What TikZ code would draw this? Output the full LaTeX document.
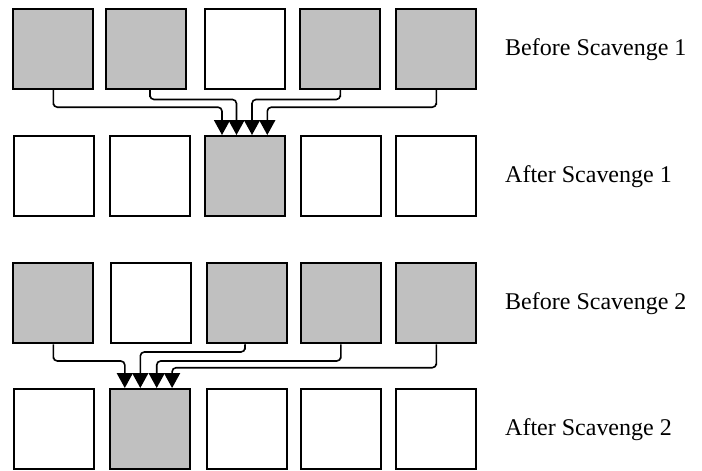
\documentclass[tikz,border=0pt]{standalone}
\usepackage{fontspec}
\setmainfont{Liberation Serif}
\usetikzlibrary{arrows.meta}
\definecolor{boxgray}{HTML}{C0C0C0}
\begin{document}
\begin{tikzpicture}[x=1pt,y=-1pt,
  cell/.style={draw=black,line width=2pt,minimum width=80pt,minimum height=80pt,inner sep=0pt,fill=white},
  full/.style={cell,fill=boxgray},
  link/.style={line width=1.6pt,rounded corners=4pt,-{Triangle[width=16pt,length=15pt]}},
  lbl/.style={anchor=base west,inner sep=0pt,font=\fontsize{24}{28}\selectfont}]
\useasboundingbox (0,0) rectangle (702,471);
% row 1
\node[full] (a1) at (52.7,48.5) {};
\node[full] (a2) at (146.3,48.5) {};
\node[cell] (a3) at (244.5,48.5) {};
\node[full] (a4) at (340.3,48.5) {};
\node[full] (a5) at (436.3,48.5) {};
% row 2
\node[cell] (b1) at (54,176) {};
\node[cell] (b2) at (150.3,176) {};
\node[full] (b3) at (244.5,176) {};
\node[cell] (b4) at (340.8,176) {};
\node[cell] (b5) at (436.3,176) {};
% row 3
\node[full] (c1) at (52.7,303.3) {};
\node[cell] (c2) at (150.7,303.3) {};
\node[full] (c3) at (246.7,303.3) {};
\node[full] (c4) at (340.8,303.3) {};
\node[full] (c5) at (436.3,303.3) {};
% row 4
\node[cell] (d1) at (54,429) {};
\node[full] (d2) at (150.3,429) {};
\node[cell] (d3) at (246.7,429) {};
\node[cell] (d4) at (341,429) {};
\node[cell] (d5) at (436.3,429) {};
% labels
\node[lbl] (l1) at (505,55) {Before Scavenge 1};
\node[lbl] (l2) at (505,182.5) {After Scavenge 1};
\node[lbl] (l3) at (505,309.8) {Before Scavenge 2};
\node[lbl] (l4) at (505,435.5) {After Scavenge 2};
% connectors scavenge 1
\draw[link] ([xshift=0.6pt]a1.south) |- ++(0,17.7) -| ([xshift=-22.5pt]b3.north);
\draw[link] ([xshift=3.7pt]a2.south) |- ++(0,10) -| ([xshift=-8pt]b3.north);
\draw[link] (a4.south) |- ++(0,10) -| ([xshift=7.5pt]b3.north);
\draw[link] (a5.south) |- ++(0,17.7) -| ([xshift=22.8pt]b3.north);
% connectors scavenge 2
\draw[link] ([xshift=0.6pt]c1.south) |- ++(0,16.7) -| ([xshift=-25.5pt]d2.north);
\draw[link] ([xshift=-1.7pt]c3.south) |- ++(0,7.7) -| ([xshift=-10pt]d2.north);
\draw[link] (c4.south) |- ++(0,16.7) -| ([xshift=6.4pt]d2.north);
\draw[link] (c5.south) |- ++(0,23.4) -| ([xshift=21.8pt]d2.north);
\end{tikzpicture}
\end{document}
